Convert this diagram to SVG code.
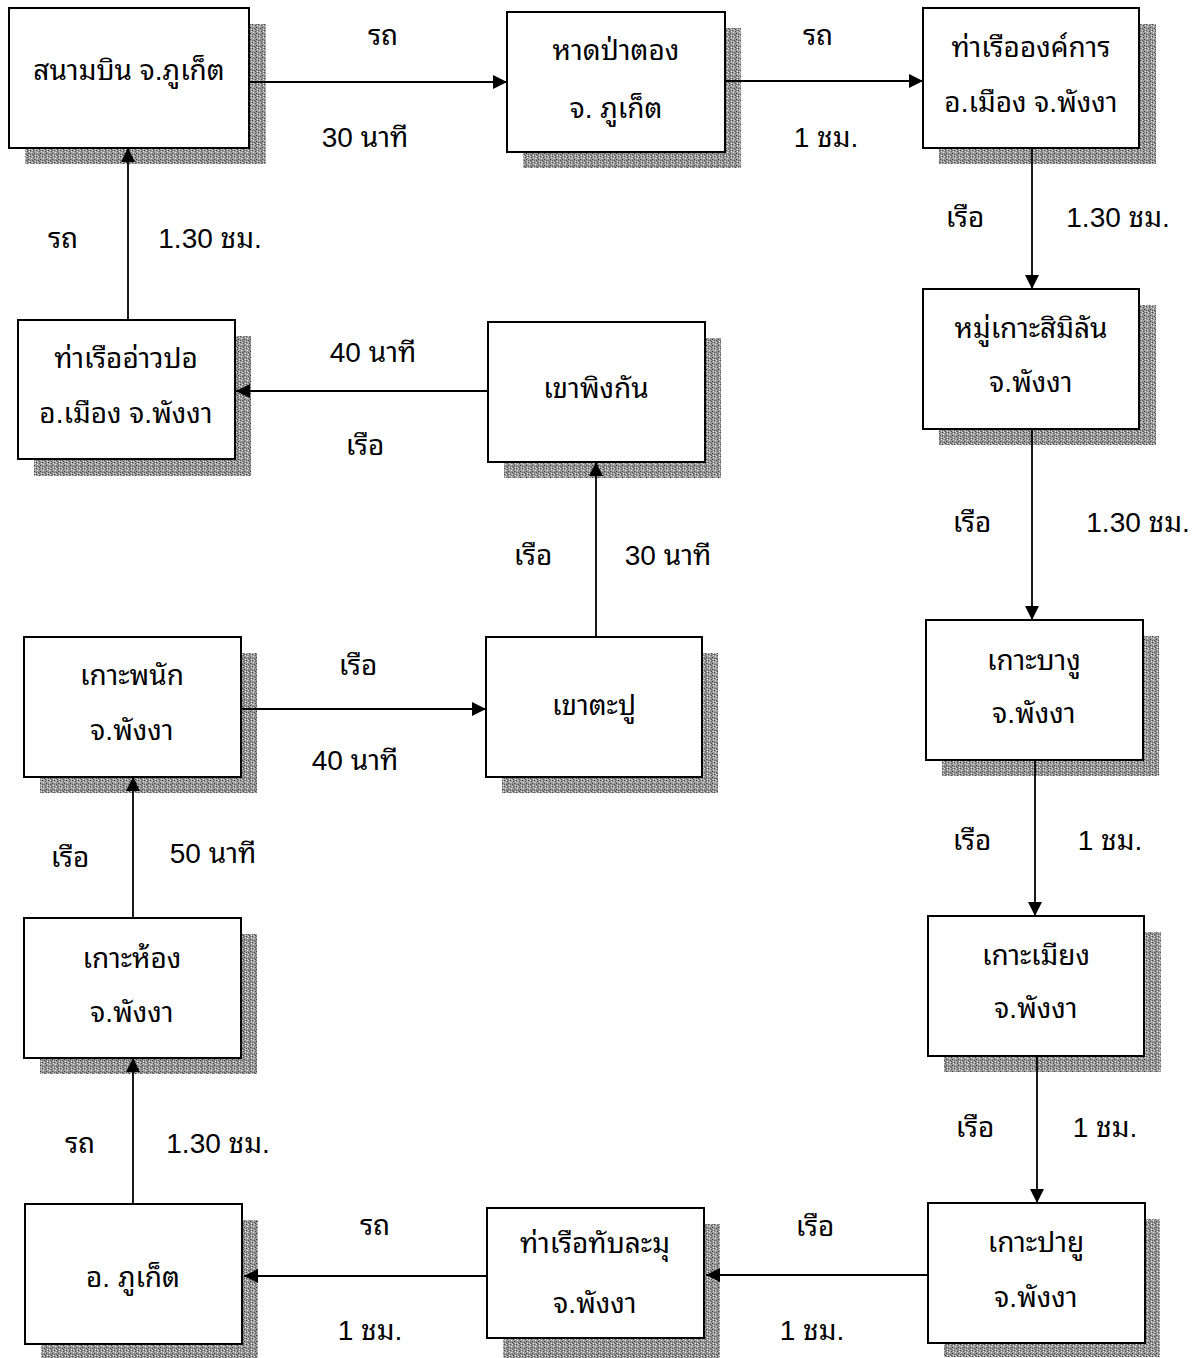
<svg xmlns="http://www.w3.org/2000/svg" width="1199" height="1358" viewBox="0 0 1199 1358">
<style>
.box{fill:#fff;stroke:#000;stroke-width:2}
.sh{fill:url(#noise)}
.t{font-family:"Liberation Sans","Garuda","Noto Sans Thai Looped","Loma","Noto Sans Thai",sans-serif;font-size:28px;fill:#000;text-anchor:middle;dominant-baseline:central}
.c{stroke:#000;stroke-width:1.8;fill:none;marker-end:url(#ah)}
</style>
<defs>
<pattern id="noise" width="6" height="6" patternUnits="userSpaceOnUse">
<rect width="6" height="6" fill="#9a9a9a"/>
<rect x="0" y="0" width="1" height="1" fill="#444"/>
<rect x="3" y="1" width="1" height="1" fill="#555"/>
<rect x="1" y="2" width="1" height="1" fill="#e5e5e5"/>
<rect x="4" y="3" width="1" height="1" fill="#3a3a3a"/>
<rect x="2" y="4" width="1" height="1" fill="#505050"/>
<rect x="5" y="5" width="1" height="1" fill="#e8e8e8"/>
<rect x="5" y="1" width="1" height="1" fill="#dcdcdc"/>
<rect x="0" y="4" width="1" height="1" fill="#666"/>
<rect x="2" y="0" width="1" height="1" fill="#d0d0d0"/>
<rect x="3" y="5" width="1" height="1" fill="#4a4a4a"/>
<rect x="1" y="5" width="1" height="1" fill="#c8c8c8"/>
<rect x="4" y="0" width="1" height="1" fill="#707070"/>
</pattern>
<marker id="ah" viewBox="0 0 14 14" refX="14" refY="7" markerWidth="14" markerHeight="14" markerUnits="userSpaceOnUse" orient="auto">
<path d="M0,0 L14,7 L0,14 Z" fill="#000"/>
</marker>
</defs>

<g id="n1"><rect class="sh" x="25" y="24" width="241" height="140"/><rect class="box" x="9" y="8" width="240" height="140"/><text class="t" x="129" y="70">สนามบิน จ.ภูเก็ต</text></g>
<g id="n2"><rect class="sh" x="523" y="28" width="218" height="140"/><rect class="box" x="507" y="12" width="218" height="140"/><text class="t" x="616" y="50">หาดป่าตอง</text><text class="t" x="616" y="108">จ. ภูเก็ต</text></g>
<g id="n3"><rect class="sh" x="939" y="24" width="217" height="140"/><rect class="box" x="923" y="8" width="216" height="140"/><text class="t" x="1031" y="47">ท่าเรือองค์การ</text><text class="t" x="1031" y="102">อ.เมือง  จ.พังงา</text></g>
<g id="n4"><rect class="sh" x="939" y="305" width="217" height="140"/><rect class="box" x="923" y="289" width="216" height="140"/><text class="t" x="1031" y="328">หมู่เกาะสิมิลัน</text><text class="t" x="1031" y="382">จ.พังงา</text></g>
<g id="n5"><rect class="sh" x="942" y="636" width="217" height="140"/><rect class="box" x="926" y="620" width="217" height="140"/><text class="t" x="1034" y="660">เกาะบางู</text><text class="t" x="1034" y="713">จ.พังงา</text></g>
<g id="n6"><rect class="sh" x="944" y="932" width="217" height="140"/><rect class="box" x="928" y="916" width="216" height="140"/><text class="t" x="1036" y="955">เกาะเมียง</text><text class="t" x="1036" y="1008">จ.พังงา</text></g>
<g id="n7"><rect class="sh" x="944" y="1219" width="216" height="138"/><rect class="box" x="928" y="1203" width="217" height="140"/><text class="t" x="1036" y="1242">เกาะปายู</text><text class="t" x="1036" y="1297">จ.พังงา</text></g>
<g id="n8"><rect class="sh" x="503" y="1224" width="217" height="134"/><rect class="box" x="487" y="1208" width="217" height="130"/><text class="t" x="595" y="1243">ท่าเรือทับละมุ</text><text class="t" x="595" y="1303">จ.พังงา</text></g>
<g id="n9"><rect class="sh" x="41" y="1220" width="217" height="138"/><rect class="box" x="25" y="1204" width="217" height="140"/><text class="t" x="133" y="1277">อ. ภูเก็ต</text></g>
<g id="n10"><rect class="sh" x="40" y="934" width="217" height="140"/><rect class="box" x="24" y="918" width="217" height="140"/><text class="t" x="132" y="958">เกาะห้อง</text><text class="t" x="132" y="1012">จ.พังงา</text></g>
<g id="n11"><rect class="sh" x="40" y="653" width="217" height="140"/><rect class="box" x="24" y="637" width="217" height="140"/><text class="t" x="132" y="675">เกาะพนัก</text><text class="t" x="132" y="730">จ.พังงา</text></g>
<g id="n12"><rect class="sh" x="502" y="653" width="216" height="140"/><rect class="box" x="486" y="637" width="216" height="140"/><text class="t" x="594" y="705">เขาตะปู</text></g>
<g id="n13"><rect class="sh" x="504" y="338" width="217" height="140"/><rect class="box" x="488" y="322" width="217" height="140"/><text class="t" x="596" y="388">เขาพิงกัน</text></g>
<g id="n14"><rect class="sh" x="34" y="336" width="217" height="140"/><rect class="box" x="18" y="320" width="217" height="139"/><text class="t" x="126" y="358">ท่าเรืออ่าวปอ</text><text class="t" x="126" y="413">อ.เมือง จ.พังงา</text></g>

<g id="connectors">
<line class="c" x1="249" y1="82" x2="507" y2="82"/>
<line class="c" x1="725" y1="81" x2="923" y2="81"/>
<line class="c" x1="1032" y1="148" x2="1032" y2="289"/>
<line class="c" x1="1032" y1="429" x2="1032" y2="620"/>
<line class="c" x1="1035" y1="760" x2="1035" y2="916"/>
<line class="c" x1="1037" y1="1056" x2="1037" y2="1203"/>
<line class="c" x1="928" y1="1275" x2="706" y2="1275"/>
<line class="c" x1="487" y1="1276" x2="244" y2="1276"/>
<line class="c" x1="133" y1="1204" x2="133" y2="1058"/>
<line class="c" x1="133" y1="918" x2="133" y2="777"/>
<line class="c" x1="241" y1="709" x2="486" y2="709"/>
<line class="c" x1="596" y1="637" x2="596" y2="462"/>
<line class="c" x1="488" y1="391" x2="236" y2="391"/>
<line class="c" x1="128" y1="320" x2="128" y2="148"/>
</g>

<g id="labels">
<text class="t" x="383" y="35">รถ</text>
<text class="t" x="365" y="137">30 นาที</text>
<text class="t" x="818" y="35">รถ</text>
<text class="t" x="826" y="137">1 ชม.</text>
<text class="t" x="965" y="217">เรือ</text>
<text class="t" x="1118" y="217">1.30 ชม.</text>
<text class="t" x="972" y="522">เรือ</text>
<text class="t" x="1138" y="522">1.30 ชม.</text>
<text class="t" x="972" y="840">เรือ</text>
<text class="t" x="1110" y="840">1 ชม.</text>
<text class="t" x="975" y="1127">เรือ</text>
<text class="t" x="1105" y="1127">1 ชม.</text>
<text class="t" x="815" y="1226">เรือ</text>
<text class="t" x="812" y="1330">1 ชม.</text>
<text class="t" x="375" y="1225">รถ</text>
<text class="t" x="370" y="1330">1 ชม.</text>
<text class="t" x="80" y="1143">รถ</text>
<text class="t" x="218" y="1143">1.30 ชม.</text>
<text class="t" x="70" y="857">เรือ</text>
<text class="t" x="213" y="853">50 นาที</text>
<text class="t" x="358" y="665">เรือ</text>
<text class="t" x="355" y="760">40 นาที</text>
<text class="t" x="533" y="555">เรือ</text>
<text class="t" x="668" y="555">30 นาที</text>
<text class="t" x="373" y="352">40 นาที</text>
<text class="t" x="365" y="445">เรือ</text>
<text class="t" x="63" y="238">รถ</text>
<text class="t" x="210" y="238">1.30 ชม.</text>
</g>
</svg>
